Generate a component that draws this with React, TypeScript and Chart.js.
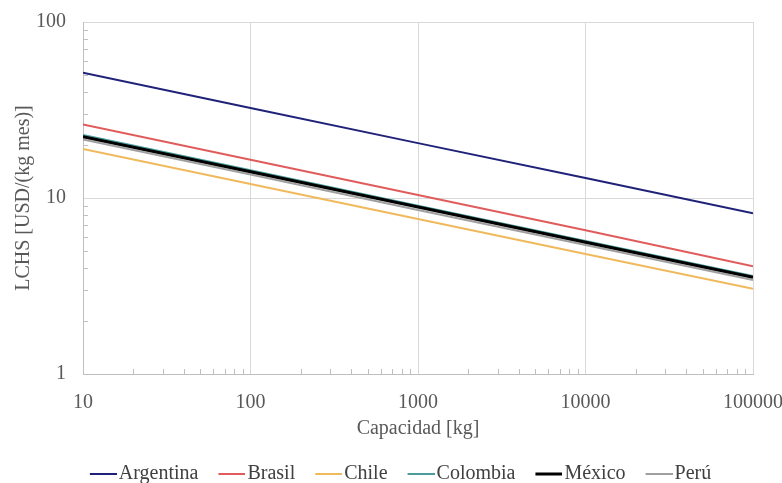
import React, { useEffect, useRef } from 'react';
import { Chart, registerables } from 'chart.js';

Chart.register(...registerables);

// Data
const capacities = [10, 100, 1000, 10000, 100000];
const seriesNames = ['Argentina', 'Brasil', 'Chile', 'Colombia', 'México', 'Perú'];
const argentina = [51.5, 32.5, 20.5, 13.0, 8.2];
const brasil = [26.2, 16.5, 10.4, 6.55, 4.1];
const chile = [19.0, 12.0, 7.6, 4.8, 3.05];
const colombia = [22.8, 14.4, 9.05, 5.7, 3.6];
const mexico = [22.3, 14.1, 8.9, 5.6, 3.55];
const peru = [21.5, 13.6, 8.55, 5.4, 3.42];
const xTickLabels = ['10', '100', '1000', '10000', '100000'];
const yTickLabels = ['1', '10', '100'];

const seriesValues = [argentina, brasil, chile, colombia, mexico, peru];
const seriesColors = ['#1f2278', '#e05c5c', '#f0b95c', '#4a9d9c', '#000000', '#a0a0a0'];
const seriesWidths = [2, 2, 2, 2, 3, 2];
const seriesOrder = [5, 4, 6, 3, 1, 2];

const FONT = "'Liberation Serif', 'Times New Roman', serif";

const isPow10 = (v: number) => Math.abs(Math.log10(v) - Math.round(Math.log10(v))) < 1e-9;

// legend marker: a short line sitting in the right half of a transparent image
function makeLegendLine(color: string, width: number) {
  const c = document.createElement('canvas');
  c.width = 54;
  c.height = 6;
  const g = c.getContext('2d');
  if (g) {
    g.fillStyle = color;
    g.fillRect(27, 3 - width / 2, 27, width);
  }
  return c;
}

const minorTicksPlugin = {
  id: 'minorTicks',
  beforeDatasetsDraw(chart: any) {
    const { ctx, chartArea, scales } = chart;
    const x = scales.x;
    const y = scales.y;
    ctx.save();
    ctx.strokeStyle = '#bfbfbf';
    ctx.lineWidth = 1;
    ctx.beginPath();
    for (let e = Math.log10(x.min); e < Math.log10(x.max); e++) {
      for (let m = 2; m <= 9; m++) {
        const px = Math.round(x.getPixelForValue(m * Math.pow(10, e))) + 0.5;
        ctx.moveTo(px, chartArea.bottom);
        ctx.lineTo(px, chartArea.bottom - 5);
      }
    }
    for (let e = Math.log10(y.min); e < Math.log10(y.max); e++) {
      for (let m = 2; m <= 9; m++) {
        const py = Math.round(y.getPixelForValue(m * Math.pow(10, e))) + 0.5;
        ctx.moveTo(chartArea.left, py);
        ctx.lineTo(chartArea.left + 5, py);
      }
    }
    ctx.stroke();
    ctx.restore();
  },
};

export default function App() {
  const canvasRef = useRef<HTMLCanvasElement | null>(null);

  useEffect(() => {
    if (!canvasRef.current) return;
    const datasets = seriesNames.map((name, i) => ({
      label: name,
      data: capacities.map((c, j) => ({ x: c, y: seriesValues[i][j] })),
      borderColor: seriesColors[i],
      backgroundColor: seriesColors[i],
      borderWidth: seriesWidths[i],
      pointRadius: 0,
      pointStyle: makeLegendLine(seriesColors[i], seriesWidths[i]),
      fill: false,
      tension: 0,
      order: seriesOrder[i],
    }));

    const chart = new Chart(canvasRef.current, {
      type: 'line',
      data: { datasets },
      plugins: [minorTicksPlugin],
      options: {
        responsive: true,
        maintainAspectRatio: false,
        animation: false,
        layout: { padding: { left: 0, right: 0, top: 0, bottom: -11 } },
        plugins: {
          tooltip: { enabled: false },
          legend: {
            position: 'bottom',
            labels: {
              usePointStyle: true,
              pointStyleWidth: 38,
              boxHeight: 20,
              padding: 1,
              color: '#404040',
              font: { family: FONT, size: 20 },
              sort: (a: any, b: any) => a.datasetIndex - b.datasetIndex,
            },
          },
        },
        scales: {
          x: {
            type: 'logarithmic',
            min: 10,
            max: 100000,
            afterBuildTicks: (scale: any) => {
              scale.ticks = xTickLabels.map((t) => ({ value: Number(t) }));
            },
            afterFit: (scale: any) => {
              scale.height = 89;
              scale.paddingLeft = 0;
              scale.paddingRight = 29;
            },
            ticks: {
              autoSkip: false,
              maxRotation: 0,
              padding: 17,
              color: '#595959',
              font: { family: FONT, size: 20 },
              callback: (v: any) => (isPow10(Number(v)) ? String(Number(v)) : ''),
            },
            grid: {
              color: '#d9d9d9',
              lineWidth: 1,
              drawTicks: false,
            },
            border: { display: true, color: '#bfbfbf' },
            title: {
              display: true,
              text: 'Capacidad [kg]',
              color: '#595959',
              font: { family: FONT, size: 20 },
              padding: { top: 4, bottom: 22 },
            },
          },
          y: {
            type: 'logarithmic',
            min: 1,
            max: 100,
            afterBuildTicks: (scale: any) => {
              scale.ticks = yTickLabels.map((t) => ({ value: Number(t) }));
            },
            afterFit: (scale: any) => {
              scale.width = 83;
              scale.paddingTop = 22;
              scale.paddingBottom = 0;
            },
            ticks: {
              autoSkip: false,
              padding: 17,
              color: '#595959',
              font: { family: FONT, size: 20 },
              callback: (v: any) => (isPow10(Number(v)) ? String(Number(v)) : ''),
            },
            grid: {
              color: '#d9d9d9',
              lineWidth: 1,
              drawTicks: false,
            },
            border: { display: true, color: '#bfbfbf' },
            title: {
              display: true,
              text: 'LCHS [USD/(kg mes)]',
              color: '#595959',
              font: { family: FONT, size: 20 },
              padding: { top: 12, bottom: 0 },
            },
          },
        },
      },
    });
    return () => chart.destroy();
  }, []);

  return (
    <div
      style={{
        position: 'fixed',
        left: 0,
        top: 0,
        width: 782,
        height: 483,
        background: '#ffffff',
      }}
    >
      <canvas ref={canvasRef} />
    </div>
  );
}
